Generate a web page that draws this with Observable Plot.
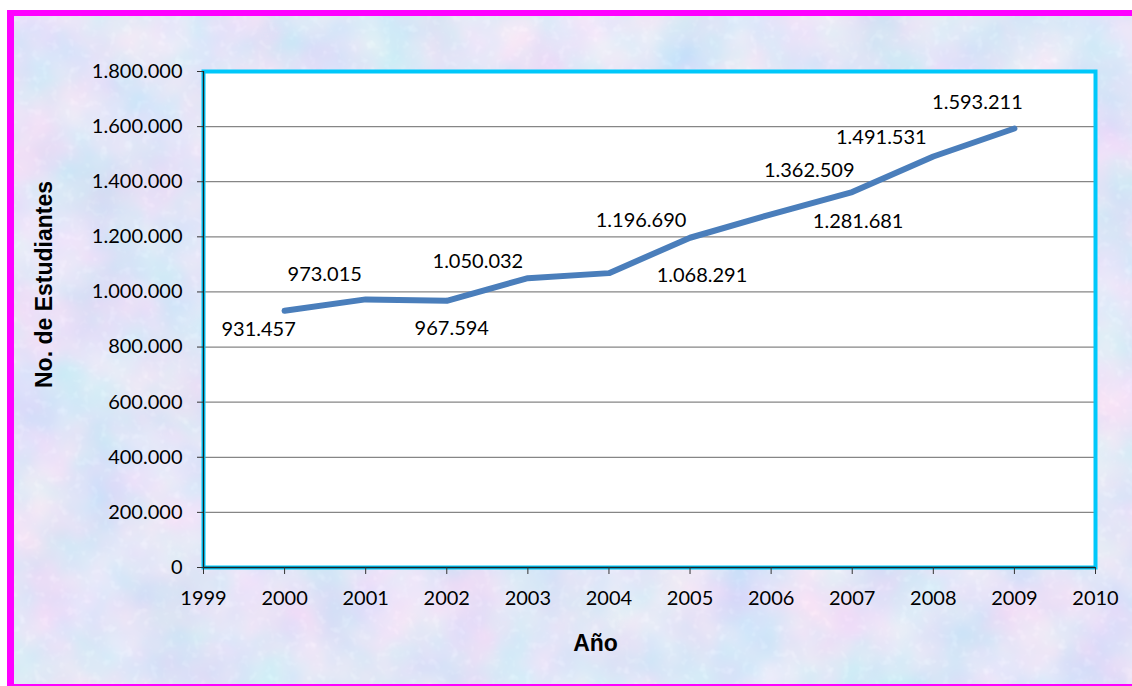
<!DOCTYPE html>
<html>
<head>
<meta charset="utf-8">
<script src="https://cdn.jsdelivr.net/npm/d3@7"></script>
<script src="https://cdn.jsdelivr.net/npm/@observablehq/plot@0.6"></script>
<style>
  html, body { margin: 0; padding: 0; background: #ffffff; }
  #wrap { position: relative; width: 1132px; height: 686px; overflow: hidden; background: #ffffff; }
  #tex { position: absolute; left: 0; top: 0; }
  #border { position: absolute; left: 7px; top: 10px; width: 1140px; height: 680px; box-sizing: border-box;
            border-top: 6px solid #ff00ff; border-left: 7px solid #ff00ff; border-bottom: 6px solid #ff00ff; }
  #chart { position: absolute; left: 0; top: 0; }
</style>
</head>
<body>
<div id="wrap">
  <svg id="tex" width="1132" height="686">
    <defs>
      <filter id="marble" x="0" y="0" width="100%" height="100%">
        <feTurbulence type="fractalNoise" baseFrequency="0.014" numOctaves="3" seed="7" result="n1"/>
        <feColorMatrix in="n1" type="matrix" values="
          0.50 0 0 0 0.50
          0 0.22 0 0 0.67
          0 0 0.08 0 0.89
          0 0 0 0 1" result="c1"/>
        <feTurbulence type="fractalNoise" baseFrequency="0.12" numOctaves="2" seed="3" result="n2"/>
        <feColorMatrix in="n2" type="matrix" values="
          0.18 0 0 0 -0.10
          0.18 0 0 0 -0.10
          0.10 0 0 0 -0.055
          0 0 0 0 1" result="c2"/>
        <feComposite in="c1" in2="c2" operator="arithmetic" k1="0" k2="1" k3="1" k4="0"/>
      </filter>
    </defs>
    <rect x="14" y="16" width="1118" height="668" filter="url(#marble)"/>
  </svg>
  <div id="border"></div>
  <div id="chart"></div>
</div>
<script>
// ---- data ----
const years = [2000, 2001, 2002, 2003, 2004, 2005, 2006, 2007, 2008, 2009];
const students = [931457, 973015, 967594, 1050032, 1068291, 1196690, 1281681, 1362509, 1491531, 1593211];
const xTicks = [1999, 2000, 2001, 2002, 2003, 2004, 2005, 2006, 2007, 2008, 2009, 2010];
const yTicks = [0, 200000, 400000, 600000, 800000, 1000000, 1200000, 1400000, 1600000, 1800000];
const yTitle = "No. de Estudiantes";
const xTitle = "Año";

// ---- layout (label offsets in px, as placed in the original) ----
const labelOffsets = [[-26, 19], [-41, -25], [5, 28], [-50, -17], [93, 2], [-49, -17], [87, 7], [-43, -21], [-52, -19], [-37, -26]];

const locale = d3.formatLocale({decimal: ",", thousands: ".", grouping: [3], currency: ["", ""]});
const fmt = locale.format(",d");

const rows = years.map((y, i) => ({year: y, value: students[i]}));

const labelMarks = rows.map((r, i) => Plot.text([r], {
  x: "year", y: "value", text: d => fmt(d.value),
  dx: labelOffsets[i][0], dy: labelOffsets[i][1],
  fill: "#000", fontSize: 20, textAnchor: "middle"
}));

const chart = Plot.plot({
  width: 1132,
  height: 686,
  marginLeft: 203,
  marginRight: 37,
  marginTop: 71,
  marginBottom: 119,
  style: {fontFamily: "Lato", fontSize: "20px", background: "transparent", color: "#000"},
  x: {domain: [1999, 2010]},
  y: {domain: [0, 1800000]},
  marks: [
    Plot.frame({fill: "#ffffff", stroke: null}),
    Plot.gridY(yTicks, {stroke: "#868686", strokeOpacity: 1, strokeWidth: 1.3}),
    Plot.line(rows, {x: "year", y: "value", stroke: "#4a7ebb", strokeWidth: 6, strokeLinejoin: "round", strokeLinecap: "round"}),
    Plot.frame({stroke: "#00c8fa", strokeWidth: 4, fill: null}),
    Plot.ruleX([1999], {stroke: "#222", strokeWidth: 1.3}),
    Plot.ruleY([0], {stroke: "#222", strokeWidth: 1.3}),
    Plot.axisY({ticks: yTicks, tickFormat: fmt, tickSize: 6, tickPadding: 15, label: null, stroke: "#333", fontSize: 20}),
    Plot.axisX({ticks: xTicks, tickFormat: "d", tickSize: 7, tickPadding: 16, label: null, stroke: "#333", fontSize: 20}),
    ...labelMarks,
    Plot.text([yTitle], {frameAnchor: "left", text: d => d, rotate: -90, textAnchor: "middle", lineAnchor: "middle",
      dx: -159, dy: -35,
      fontSize: 23, fontWeight: "bold", fontFamily: "Liberation Sans", fill: "#000"}),
    Plot.text([xTitle], {frameAnchor: "bottom", text: d => d, textAnchor: "middle", lineAnchor: "middle",
      dx: -54, dy: 76,
      fontSize: 23, fontWeight: "bold", fontFamily: "Liberation Sans", fill: "#000"})
  ]
});
document.getElementById("chart").appendChild(chart);
</script>
</body>
</html>
